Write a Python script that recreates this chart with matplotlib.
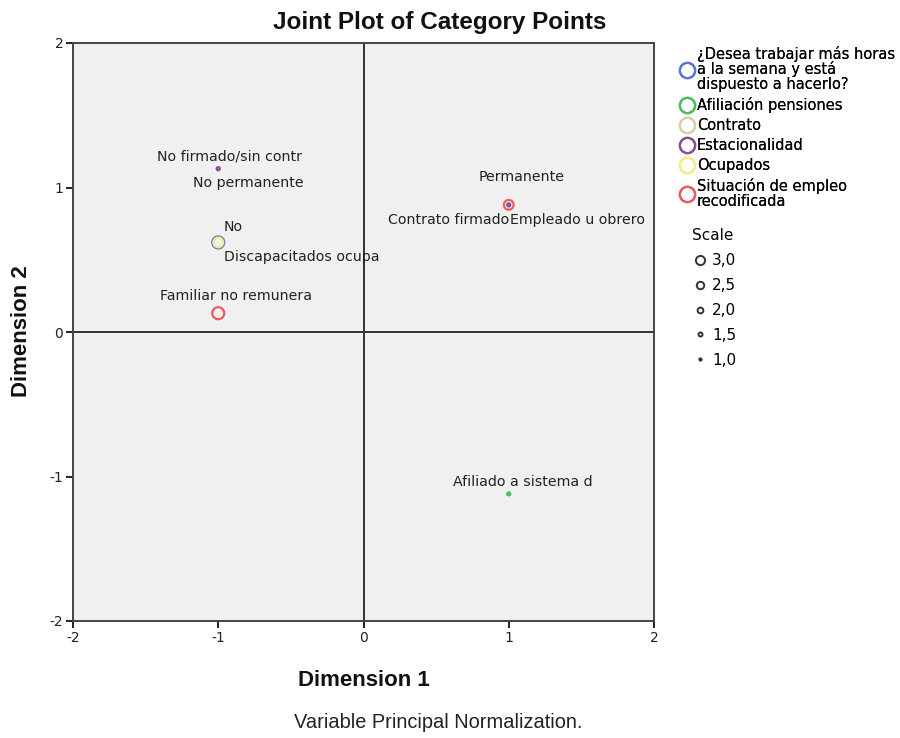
import matplotlib
matplotlib.use("Agg")
import matplotlib.pyplot as plt
from matplotlib.lines import Line2D

plt.rcParams["axes.unicode_minus"] = False

# variables (legend order) and their colours
variables = [
    "¿Desea trabajar más horas\na la semana y está\ndispuesto a hacerlo?",
    "Afiliación pensiones",
    "Contrato",
    "Estacionalidad",
    "Ocupados",
    "Situación de empleo\nrecodificada",
]
var_colors = ["#5a77d6", "#4cbb5e", "#d8cfa6", "#8b4c9b", "#f1ec84", "#ee5a62"]

# category points
cat_labels = [
    "No",
    "Afiliado a sistema d",
    "Contrato firmado",
    "No firmado/sin contr",
    "Permanente",
    "No permanente",
    "Discapacitados ocupa",
    "Empleado u obrero",
    "Familiar no remunera",
]
cat_var = [0, 1, 2, 2, 3, 3, 4, 5, 5]
dim1 = [-1.0, 1.0, 1.0, -1.0, 1.0, -1.0, -1.0, 1.0, -1.0]
dim2 = [0.62, -1.12, 0.88, 1.13, 0.88, 1.13, 0.62, 0.88, 0.13]
scale = [3.0, 1.0, 1.0, 1.0, 1.0, 1.0, 2.5, 2.5, 3.0]

scale_levels = [3.0, 2.5, 2.0, 1.5, 1.0]

# label placement (offset in pixels, horizontal alignment)
label_offsets = [
    ((15, 15), "center"),
    ((14, 12), "center"),
    ((1, -15), "right"),
    ((11, 12), "center"),
    ((13, 28), "center"),
    ((30, -14), "center"),
    ((84, -15), "center"),
    ((1, -15), "left"),
    ((18, 17), "center"),
]


def marker_size(s):
    d = 4.5 * s - 1.5
    return (d * 0.72) ** 2


fig = plt.figure(figsize=(9, 7.38), dpi=100)
ax = fig.add_axes([73 / 900, 117 / 738, 581 / 900, 578 / 738])
ax.set_facecolor("#f0f0f0")

ax.axhline(0, color="#333333", lw=1.4, zorder=1)
ax.axvline(0, color="#333333", lw=1.4, zorder=1)

for v, color in enumerate(var_colors):
    idx = [i for i, cv in enumerate(cat_var) if cv == v]
    ax.scatter(
        [dim1[i] for i in idx],
        [dim2[i] for i in idx],
        s=[marker_size(scale[i]) for i in idx],
        facecolors="none",
        edgecolors=color,
        linewidths=1.6,
        zorder=3,
    )

for i, text in enumerate(cat_labels):
    (dx, dy), ha = label_offsets[i]
    ax.annotate(
        text,
        (dim1[i], dim2[i]),
        xytext=(dx, dy),
        textcoords="offset pixels",
        ha=ha,
        va="center",
        fontsize=10.2,
        color="#222222",
        zorder=4,
    )

ax.set_xlim(-2, 2)
ax.set_ylim(-2, 2)
ax.set_xticks([-2, -1, 0, 1, 2])
ax.set_yticks([-2, -1, 0, 1, 2])
ax.tick_params(direction="out", length=5, width=1.4, labelsize=10,
               colors="#222222", pad=2)
for spine in ax.spines.values():
    spine.set_color("#444444")
    spine.set_linewidth(1.4)

fig.text(440 / 900, 1 - 22 / 738, "Joint Plot of Category Points",
         family="Liberation Sans", fontsize=17.5, fontweight="bold",
         ha="center", va="center", color="#111111")
fig.text(364 / 900, 1 - 680 / 738, "Dimension 1", family="Liberation Sans",
         fontsize=16, fontweight="bold", ha="center", va="center", color="#111111")
fig.text(22 / 900, 1 - 331 / 738, "Dimension 2", family="Liberation Sans",
         fontsize=16, fontweight="bold", ha="center", va="center",
         rotation=90, color="#111111")

fig.text(438 / 900, 1 - 722 / 738, "Variable Principal Normalization.",
         ha="center", va="center", fontsize=14.4, color="#222222",
         family="Liberation Sans")

var_handles = [
    Line2D([], [], ls="none", marker="o", markersize=11, markerfacecolor="none",
           markeredgecolor=c, markeredgewidth=1.6)
    for c in var_colors
]
leg1 = fig.legend(
    var_handles, variables, loc="upper left", bbox_to_anchor=(673 / 900, 1 - 40 / 738),
    frameon=False, fontsize=10.5, handletextpad=0.15, labelspacing=0.35,
    handlelength=1.1, borderaxespad=0,
)
for t in leg1.get_texts():
    t.set_linespacing(0.95)
fig.add_artist(leg1)

scale_handles = [
    Line2D([], [], ls="none", marker="o", markersize=(4.5 * s - 1.5) * 0.55,
           markerfacecolor="none", markeredgecolor="#333333", markeredgewidth=1.4)
    for s in scale_levels
]
fig.legend(
    scale_handles, [f"{s:.1f}".replace(".", ",") for s in scale_levels],
    title="Scale", title_fontsize=11, loc="upper left",
    bbox_to_anchor=(686 / 900, 1 - 222 / 738), frameon=False, fontsize=11,
    handletextpad=0.3, labelspacing=0.65, handlelength=1.0, borderaxespad=0,
    alignment="left",
)

fig.savefig("out.png", dpi=100)
